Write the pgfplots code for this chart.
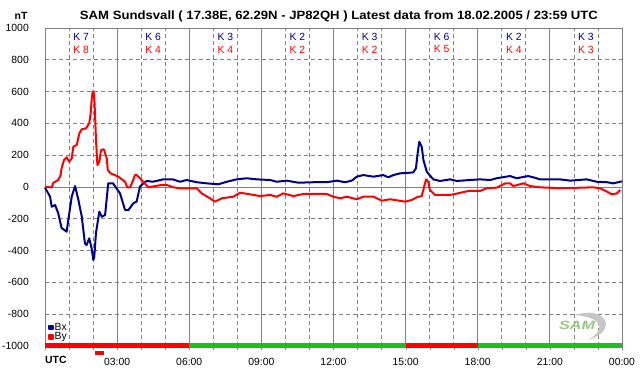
\documentclass[border=0pt]{standalone}
\usepackage{fontspec}
\setmainfont{Liberation Sans}
\usepackage{pgfplots}
\pgfplotsset{compat=1.18}
\definecolor{bxblue}{RGB}{0,0,140}
\definecolor{byred}{RGB}{255,0,0}
\definecolor{gridgray}{RGB}{128,128,128}
\definecolor{bargreen}{RGB}{30,190,30}
\definecolor{logogreen}{RGB}{150,200,130}
\newcommand{\tf}{\fontsize{10.4}{11}\selectfont}
\newcommand{\kpair}[3]{%
  \node[font=\tf, text=bxblue, inner sep=0pt] at (axis cs:#1,943) {K~#2};
  \node[font=\tf, text=byred, inner sep=0pt] at (axis cs:#1,865) {K~#3};}
\begin{document}
\begin{tikzpicture}
\begin{axis}[
  scale only axis, width=577pt, height=318pt,
  xmin=0, xmax=24, ymin=-1000, ymax=1000,
  clip=false,
  axis line style={gridgray},
  xtick={0,3,...,24},
  xticklabels={,03:00,06:00,09:00,12:00,15:00,18:00,21:00,00:00},
  minor xtick={1,2,4,5,7,8,10,11,13,14,16,17,19,20,22,23},
  ytick={-1000,-800,...,1000},
  xtick pos=bottom, tick align=outside,
  major tick length=4pt, minor tick length=4pt,
  x tick style={gridgray},
  y tick style={draw=none},
  xmajorgrids, xminorgrids, ymajorgrids,
  major x grid style={gridgray, line width=0.8pt},
  minor x grid style={gridgray, line width=0.8pt, dash pattern=on 4pt off 3pt},
  major y grid style={gridgray, line width=0.8pt, dash pattern=on 4pt off 3pt},
  /pgf/number format/assume math mode=true,
  /pgf/number format/1000 sep={},
  tick label style={font=\tf},
  yticklabel style={inner sep=0pt, xshift=-12pt},
  xticklabel style={inner sep=0pt, yshift=-8pt},
  legend style={at={(axis cs:0.12,-848)}, anchor=north west, draw=none, fill=none,
    font=\tf, row sep=-1pt, inner sep=0pt, nodes={inner sep=1pt}},
  legend cell align=left,
  legend image code/.code={\fill[#1] (0.5pt,-1.8pt) rectangle (4pt,1.8pt);},
]
\draw[gridgray, line width=0.8pt] (axis cs:0,0) -- (axis cs:24,0);
\addplot[bxblue, line width=2pt, line join=round] coordinates {
(0,-4) (0.21,-61) (0.28,-124) (0.42,-113) (0.55,-165) (0.69,-258) (0.90,-281)
(0.97,-208) (1.11,-61) (1.25,6) (1.39,-82) (1.53,-187) (1.66,-354) (1.73,-365)
(1.84,-323) (1.94,-386) (2.01,-459) (2.05,-438) (2.12,-289) (2.26,-155) (2.36,-187)
(2.50,-176) (2.63,23) (2.83,23) (3.12,-40) (3.33,-145) (3.47,-145) (3.67,-103)
(3.81,-92) (3.95,2) (4.09,23) (4.23,38) (4.49,33) (4.91,48) (5.32,48) (5.62,33)
(5.89,44) (6.31,30) (6.73,23) (7.21,17) (7.56,33) (7.97,48) (8.39,55) (8.81,48)
(9.36,44) (9.64,33) (10.05,40) (10.54,27) (11.16,30) (11.72,30) (12.13,40)
(12.48,30) (12.76,40) (12.97,65) (13.24,75) (13.66,65) (14.07,75) (14.28,61)
(14.49,75) (14.77,86) (15.18,90) (15.32,92) (15.43,118) (15.50,212) (15.57,285)
(15.67,253) (15.74,170) (15.88,96) (16.15,48) (16.43,38) (16.85,48) (17.13,38)
(17.68,44) (18.10,48) (18.52,44) (18.79,55) (19.34,69) (19.62,55) (20.10,69)
(20.31,61) (20.59,48) (21.42,48) (21.84,40) (22.53,48) (22.95,33) (23.37,30)
(23.64,23) (23.92,33) (24,35)
};
\addlegendentry{Bx}
\addplot[byred, line width=2pt, line join=round] coordinates {
(0,0) (0.28,-2) (0.35,27) (0.55,44) (0.65,75) (0.69,118) (0.79,170) (0.90,187)
(1.01,159) (1.11,180) (1.18,254) (1.32,264) (1.43,338) (1.53,363) (1.71,369)
(1.84,401) (1.90,464) (1.94,547) (1.98,600) (2.04,589) (2.08,464) (2.12,296)
(2.18,138) (2.26,159) (2.33,233) (2.45,237) (2.57,180) (2.61,107) (2.73,86)
(3.05,65) (3.33,33) (3.42,-2) (3.54,-2) (3.67,44) (3.74,75) (3.81,75) (3.95,55)
(4.30,-2) (4.85,13) (5.06,13) (5.34,-2) (5.62,-8) (6.31,-8) (6.52,-40) (6.86,-71)
(7.07,-92) (7.35,-71) (7.83,-61) (8.11,-36) (8.53,-46) (8.94,-57) (9.36,-50)
(9.64,-61) (9.91,-40) (10.33,-57) (10.74,-44) (11.72,-44) (11.99,-61) (12.27,-71)
(12.55,-61) (12.97,-77) (13.24,-61) (13.66,-61) (14.01,-86) (14.35,-77) (14.98,-92)
(15.25,-82) (15.46,-65) (15.67,-57) (15.77,2) (15.85,48) (15.94,33) (16.01,-19)
(16.22,-50) (16.85,-50) (17.05,-44) (17.61,-25) (18.10,-25) (18.37,-8) (18.79,-4)
(19.14,23) (19.34,23) (19.48,6) (19.90,23) (20.17,6) (20.59,-2) (21.42,-8)
(22.81,-2) (23.09,-8) (23.37,-29) (23.58,-46) (23.79,-40) (23.92,-19)
};
\addlegendentry{By}
% K indices
\kpair{1.5}{7}{8}
\kpair{4.5}{6}{4}
\kpair{7.5}{3}{4}
\kpair{10.5}{2}{2}
\kpair{13.5}{3}{2}
\kpair{16.5}{6}{5}
\kpair{19.5}{2}{4}
\kpair{22.5}{3}{3}
% status bar
\fill[byred] (axis cs:0,-1013) rectangle (axis cs:6,-981);
\fill[bargreen] (axis cs:6,-1013) rectangle (axis cs:15,-981);
\fill[byred] (axis cs:15,-1013) rectangle (axis cs:18,-981);
\fill[bargreen] (axis cs:18,-1013) rectangle (axis cs:24,-981);
\fill[byred] (axis cs:2.08,-1057) rectangle (axis cs:2.45,-1031);
\end{axis}
% logo
\fill[gray!45] (530pt,31pt) .. controls (560pt,41pt) and (575pt,16pt) .. (543pt,6pt)
  .. controls (560pt,16pt) and (560pt,28pt) .. (530pt,31pt);
\node[font=\bfseries\itshape\fontsize{12}{12}\selectfont, text=logogreen, inner sep=0pt, xscale=1.35] at (532pt,21pt) {SAM};
% titles
\node[font=\fontsize{12}{14}\selectfont\bfseries, xscale=1.094] at (294pt,330pt) {SAM Sundsvall ( 17.38E, 62.29N - JP82QH ) Latest data from 18.02.2005 / 23:59 UTC};
\node[font=\fontsize{10.4}{12}\selectfont\bfseries] at (-24pt,330pt) {nT};
\node[font=\fontsize{10.4}{12}\selectfont\bfseries, anchor=west, inner sep=0pt] at (0pt,-14pt) {UTC};
\pgfresetboundingbox
\path[use as bounding box] (-45pt,-30pt) rectangle (597pt,346pt);
\end{tikzpicture}
\end{document}
